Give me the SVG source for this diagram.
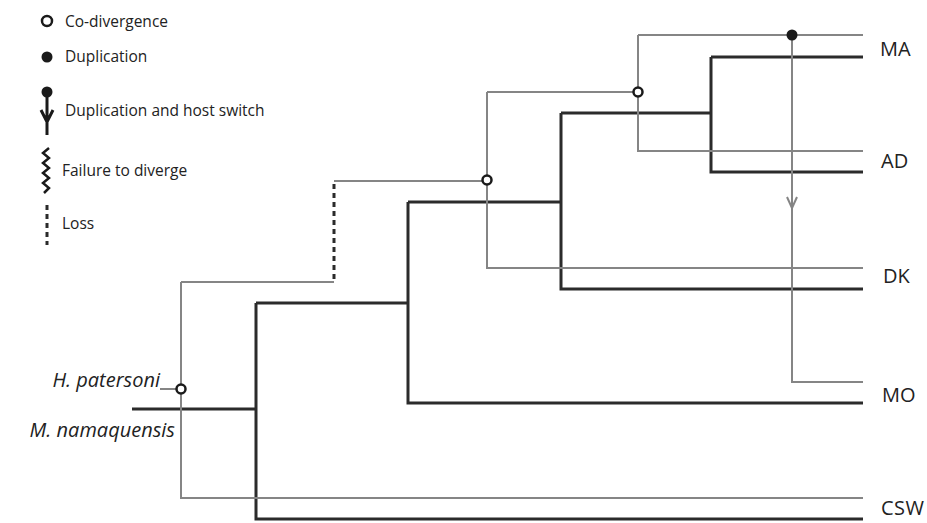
<svg xmlns="http://www.w3.org/2000/svg" width="927" height="523" viewBox="0 0 927 523">
<style>
.host{fill:none;stroke:#2b2b2b;stroke-width:3}
.para{fill:none;stroke:#858585;stroke-width:2}
.loss{fill:none;stroke:#2b2b2b;stroke-width:3;stroke-dasharray:5 4}
.co{fill:#fff;stroke:#1a1a1a;stroke-width:2.5}
.dup{fill:#1a1a1a}
.leg{font-family:"Open Sans","Liberation Sans",sans-serif;font-size:15.5px;fill:#222}
.tip{font-family:"Open Sans","Liberation Sans",sans-serif;font-size:20px;fill:#222}
.sp{font-family:"Open Sans","Liberation Sans",sans-serif;font-size:20px;font-style:italic;fill:#222}
</style>
<rect width="927" height="523" fill="#fff"/>
<g id="legend">
  <g id="legend-codivergence"><circle class="co" cx="47" cy="21" r="5"/><text class="leg" x="65" y="27">Co-divergence</text></g>
  <g id="legend-duplication"><circle class="dup" cx="47" cy="57" r="5.5"/><text class="leg" x="65" y="62">Duplication</text></g>
  <g id="legend-hostswitch"><circle class="dup" cx="47" cy="92" r="5.5"/><path d="M47,92 V135 M41,110 L47,122 L53,110" fill="none" stroke="#1a1a1a" stroke-width="3"/><text class="leg" x="65" y="116">Duplication and host switch</text></g>
  <g id="legend-failure"><path d="M49,148 L43,153 L49,158 L43,163 L49,168 L43,173 L49,178 L43,183 L49,188 L44,193" fill="none" stroke="#1a1a1a" stroke-width="2.5"/><text class="leg" x="62" y="176">Failure to diverge</text></g>
  <g id="legend-loss"><line x1="47" y1="205" x2="47" y2="245" class="loss"/><text class="leg" x="62" y="229">Loss</text></g>
</g>
<g id="connectors">
  <g id="host-tree">
    <path class="host" d="M132,409 H256"/>
    <path class="host" d="M256,303 V519 H863"/>
    <path class="host" d="M256,303 H408"/>
    <path class="host" d="M408,202 V403 H863"/>
    <path class="host" d="M408,202 H561"/>
    <path class="host" d="M561,113 V289 H863"/>
    <path class="host" d="M561,113 H711"/>
    <path class="host" d="M711,57 V172 H863"/>
    <path class="host" d="M711,57 H863"/>
  </g>
  <g id="parasite-tree">
    <path class="para" d="M160,389 H181"/>
    <path class="para" d="M181,282 V498 H863"/>
    <path class="para" d="M181,282 H334"/>
    <path class="loss" d="M334,279 V181"/>
    <path class="para" d="M334,181 H487"/>
    <path class="para" d="M487,92 V268 H863"/>
    <path class="para" d="M487,92 H638"/>
    <path class="para" d="M638,35 V151 H863"/>
    <path class="para" d="M638,35 H863"/>
    <path class="para" d="M792,35 V382 H863"/>
    <path class="para" d="M787,197 L792,208 L797,197"/>
  </g>
</g>
<g id="events">
  <circle id="codiv-root" class="co" cx="181" cy="389" r="4.5"/>
  <circle id="codiv-2" class="co" cx="487" cy="180" r="4.5"/>
  <circle id="codiv-3" class="co" cx="638" cy="92" r="4.5"/>
  <circle id="dup-switch" class="dup" cx="792" cy="35" r="5.5"/>
</g>
<g id="labels">
  <g id="node-hp"><text class="sp" x="160" y="387" text-anchor="end">H. patersoni</text></g>
  <g id="node-mn"><text class="sp" x="175" y="437" text-anchor="end">M. namaquensis</text></g>
  <g id="node-MA"><text class="tip" x="880" y="56">MA</text></g>
  <g id="node-AD"><text class="tip" x="881" y="168">AD</text></g>
  <g id="node-DK"><text class="tip" x="883" y="283">DK</text></g>
  <g id="node-MO"><text class="tip" x="882" y="402">MO</text></g>
  <g id="node-CSW"><text class="tip" x="881" y="515" font-size="19" textLength="43">CSW</text></g>
</g>
</svg>
